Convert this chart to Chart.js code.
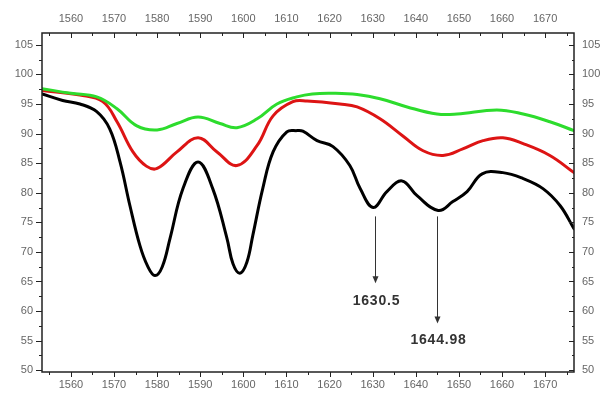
<!DOCTYPE html>
<html>
<head>
<meta charset="utf-8">
<script src="https://cdn.jsdelivr.net/npm/chart.js@4"></script>
<style>
html,body{margin:0;padding:0;background:#fff;}
#wrap{width:600px;height:394px;position:relative;}
</style>
</head>
<body>
<div id="wrap"><canvas id="c" width="600" height="394"></canvas></div>
<script>
// Wavenumber (cm-1) and transmittance (%)
const blackX = [1553.3,1558.1,1562.1,1566.0,1569.0,1571.4,1573.7,1576.0,1577.8,1579.5,1581.2,1583.0,1586.0,1589.5,1592.9,1596.2,1597.6,1599.2,1600.8,1602.2,1604.5,1606.9,1610.1,1612.4,1613.8,1617.1,1620.8,1624.7,1627.1,1630.1,1633.3,1636.8,1640.3,1645.2,1648.6,1651.9,1655.4,1660.2,1664.9,1669.5,1673.5,1676.7];
const blackY = [96.7,95.6,95.0,93.7,90.8,85.2,77.8,71.1,67.6,66.0,67.5,72.3,80.7,85.2,80.7,72.3,68.0,66.4,68.2,72.8,80.7,86.9,90.3,90.5,90.4,88.8,87.8,84.6,80.7,77.5,80.2,82.0,79.5,77.0,78.5,80.2,83.2,83.4,82.4,80.7,77.8,73.9];
const redX = [1553.3,1562.1,1567.4,1570.7,1574.4,1577.5,1580.0,1584.6,1589.5,1593.9,1598.5,1603.2,1606.9,1611.5,1614.8,1622.4,1626.4,1631.7,1637.0,1641.7,1646.3,1650.9,1655.6,1660.2,1664.9,1671.1,1676.7];
const redY = [97.3,96.5,95.4,92.0,86.9,84.5,84.1,86.9,89.3,86.9,84.6,88.0,93.0,95.4,95.5,95.0,94.5,92.5,89.6,87.1,86.3,87.4,88.8,89.3,88.3,86.3,83.4];
const greenX = [1553.3,1560.0,1566.0,1570.7,1575.3,1580.0,1584.6,1589.5,1594.6,1598.5,1603.2,1607.8,1612.4,1616.0,1621.0,1626.4,1631.7,1638.0,1644.9,1649.6,1658.8,1664.9,1671.1,1676.7];
const greenY = [97.6,96.8,96.2,94.2,91.3,90.6,91.7,92.8,91.7,91.0,92.5,95.0,96.2,96.7,96.8,96.6,95.9,94.5,93.3,93.3,94.0,93.3,92.0,90.5];

const xTicks = [1555,1560,1565,1570,1575,1580,1585,1590,1595,1600,1605,1610,1615,1620,1625,1630,1635,1640,1645,1650,1655,1660,1665,1670,1675];
const yTicks = [50,52.5,55,57.5,60,62.5,65,67.5,70,72.5,75,77.5,80,82.5,85,87.5,90,92.5,95,97.5,100,102.5,105];

// annotations: peak position, arrow start value, arrow end value, label value
const annPeaks = [1630.5, 1644.98];
const annLabels = ['1630.5', '1644.98'];
const annFrom = [76.0, 76.0];
const annTo = [64.7, 57.9];
const annText = [61.6, 55.1];

const X_MIN = 1553.3, X_MAX = 1676.7, Y_MIN = 49.7, Y_MAX = 107.0;

function pts(xs, ys){ return xs.map((x,i)=>({x:x, y:ys[i]})); }

const tickFont = {family:'"Liberation Sans", Arial, sans-serif', size:11};
const labelColor = '#666';

function xAxis(pos, h, pad){
  return {
    type:'linear', position:pos, min:X_MIN, max:X_MAX,
    afterBuildTicks:(s)=>{ s.ticks = xTicks.map(v=>({value:v})); },
    ticks:{ callback:(v)=> (v%10===0 ? String(v) : ''), font:tickFont, color:labelColor, padding:pad, maxRotation:0, autoSkip:false },
    grid:{ display:true, drawOnChartArea:false, drawTicks:false },
    border:{ display:false },
    afterFit:(s)=>{ s.height = h; }
  };
}
function yAxis(pos, w, pad){
  return {
    type:'linear', position:pos, min:Y_MIN, max:Y_MAX,
    afterBuildTicks:(s)=>{ s.ticks = yTicks.map(v=>({value:v})); },
    ticks:{ callback:(v)=> (v%5===0 ? String(v) : ''), font:tickFont, color:labelColor, padding:pad, autoSkip:false },
    grid:{ display:true, drawOnChartArea:false, drawTicks:false },
    border:{ display:false },
    afterFit:(s)=>{ s.width = w; }
  };
}

const framePlugin = {
  id:'frame',
  afterDraw(chart){
    const ctx = chart.ctx, a = chart.chartArea;
    const sx = chart.scales.x, sy = chart.scales.y;
    ctx.save();
    ctx.strokeStyle = '#222';
    ctx.lineWidth = 1.5;
    ctx.strokeRect(a.left, a.top, a.right-a.left, a.bottom-a.top);
    ctx.lineWidth = 1;
    ctx.beginPath();
    xTicks.forEach(v=>{
      const px = Math.round(sx.getPixelForValue(v))+0.5;
      const L = (v%10===0) ? 5 : 3;
      ctx.moveTo(px, a.bottom); ctx.lineTo(px, a.bottom+L);
      ctx.moveTo(px, a.top); ctx.lineTo(px, a.top+L);
    });
    yTicks.forEach(v=>{
      const py = Math.round(sy.getPixelForValue(v))+0.5;
      const L = (v%5===0) ? 6 : 3;
      ctx.moveTo(a.left, py); ctx.lineTo(a.left-L, py);
      ctx.moveTo(a.right, py); ctx.lineTo(a.right-L+1, py);
    });
    ctx.stroke();

    // arrows and labels
    ctx.strokeStyle = '#333';
    ctx.fillStyle = '#333';
    ctx.lineWidth = 1;
    annPeaks.forEach((p,i)=>{
      const px = Math.round(sx.getPixelForValue(p))+0.5;
      const y0 = sy.getPixelForValue(annFrom[i]);
      const y1 = sy.getPixelForValue(annTo[i]);
      ctx.beginPath(); ctx.moveTo(px, y0); ctx.lineTo(px, y1-6); ctx.stroke();
      ctx.beginPath(); ctx.moveTo(px-3, y1-7); ctx.lineTo(px+3, y1-7); ctx.lineTo(px, y1); ctx.closePath(); ctx.fill();
      ctx.font = 'bold 14px "Liberation Sans", Arial, sans-serif';
      try { ctx.letterSpacing = '0.8px'; } catch(e){}
      ctx.textAlign = 'center'; ctx.textBaseline = 'middle';
      ctx.fillText(annLabels[i], px+1, sy.getPixelForValue(annText[i]));
    });
    ctx.restore();
  }
};

const lineStyle = {borderWidth:3, pointRadius:0, tension:0.4, fill:false, borderJoinStyle:'round', borderCapStyle:'round'};

new Chart(document.getElementById('c'), {
  type:'line',
  data:{ datasets:[
    Object.assign({data:pts(greenX, greenY), borderColor:'#2ddc2d'}, lineStyle),
    Object.assign({data:pts(redX, redY), borderColor:'#dd1414'}, lineStyle),
    Object.assign({data:pts(blackX, blackY), borderColor:'#000000'}, lineStyle)
  ]},
  options:{
    responsive:false, animation:false, devicePixelRatio:1,
    layout:{padding:0},
    plugins:{legend:{display:false}, tooltip:{enabled:false}},
    scales:{
      x: xAxis('bottom', 22, 6),
      x2: xAxis('top', 33, 7),
      y: yAxis('left', 42, 9),
      y2: yAxis('right', 26, 8)
    }
  },
  plugins:[framePlugin]
});
</script>
</body>
</html>
